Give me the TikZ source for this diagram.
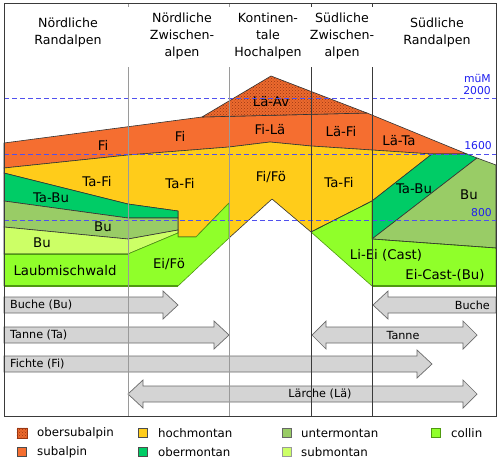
\documentclass[tikz,border=0pt]{standalone}
\usepackage{fontspec}
\setmainfont{DejaVu Sans}
\usetikzlibrary{patterns}
\definecolor{osa}{HTML}{EC6A2E}
\definecolor{osadot}{HTML}{9A3612}
\definecolor{sa}{HTML}{F56E30}
\definecolor{hm}{HTML}{FFCC1A}
\definecolor{om}{HTML}{00CC66}
\definecolor{um}{HTML}{99CC66}
\definecolor{sm}{HTML}{CCFF66}
\definecolor{co}{HTML}{90FF2A}
\definecolor{cob}{HTML}{4F9A10}
\definecolor{hblue}{HTML}{2020F0}
\definecolor{dblue}{HTML}{5050EE}
\definecolor{agray}{HTML}{D4D4D4}
\definecolor{aline}{HTML}{6A6A6A}
\definecolor{lgray}{HTML}{9A9A9A}
\definecolor{dgray}{HTML}{3A3A3A}
\tikzset{
  region/.style={draw=black!80, line width=0.6pt, line join=round},
  colregion/.style={draw=cob, line width=0.6pt, line join=round, fill=co},
  lbl/.style={font=\fontsize{13.3}{15}\selectfont, inner sep=0pt},
  hdr/.style={align=center, font=\fontsize{12.6}{17}\selectfont, inner sep=0pt},
  alt/.style={font=\fontsize{10.8}{12}\selectfont, text=hblue, inner sep=0pt, anchor=east},
  hline/.style={dblue, line width=0.8pt, dash pattern=on 5pt off 3pt},
  arrowbox/.style={draw=aline, fill=agray, line width=0.7pt, line join=miter},
  atxt/.style={font=\fontsize{11.2}{13}\selectfont, inner sep=0pt},
  legtxt/.style={font=\fontsize{11.8}{14}\selectfont, inner sep=0pt, anchor=west},
  legbox/.style={line width=0.6pt, minimum size=9.5pt, inner sep=0pt},
  colline/.style={line width=0.9pt}
}
\begin{document}
\begin{tikzpicture}[x=1pt,y=-1pt]
\useasboundingbox (0,0) rectangle (500,461);
\fill[white] (0,0) rectangle (500,461);

% ---------- coordinates ----------
\coordinate (OT1) at (4,143);
\coordinate (OT2) at (202,117);
\coordinate (P) at (271,76);
\coordinate (LAr) at (367,113);
\coordinate (TIP) at (467,154);
\coordinate (RE) at (496,165);
\coordinate (OY0) at (4,168);
\coordinate (OY1) at (128,155);
\coordinate (OY2) at (229,147);
\coordinate (OY3) at (270,142);
\coordinate (OY4) at (311,146);
\coordinate (OY5) at (372,150);
\coordinate (OY6) at (432,154);
\coordinate (TBr) at (477,158);
\coordinate (TB1) at (372,201);
\coordinate (TB2) at (372,239);
\coordinate (CR1) at (311,232);
\coordinate (FFP) at (272,199);

% ---------- regions ----------
% subalpin
\path[region, fill=sa] (OT1) -- (OT2) -- (LAr) -- (TIP) -- (OY6) -- (OY5) -- (OY4) -- (OY3) -- (OY2) -- (OY1) -- (OY0) -- cycle;
% obersubalpin
\fill[osa] (OT2) -- (P) -- (LAr) -- cycle;
\fill[pattern=crosshatch dots, pattern color=osadot] (OT2) -- (P) -- (LAr) -- cycle;
\draw[region] (OT2) -- (P) -- (LAr) -- cycle;
% hochmontan
\path[region, fill=hm] (OY0) -- (OY1) -- (OY2) -- (OY3) -- (OY4) -- (OY5) -- (OY6) -- (TB1) -- (CR1) -- (FFP) -- (229,238) -- (229,203) -- (196,237) -- (178,237) -- (178,211) -- (128,204) -- (4,173) -- cycle;
% obermontan left
\path[region, fill=om] (4,173) -- (128,204) -- (178,211) -- (178,218) -- (128,218) -- (4,201) -- cycle;
% untermontan left
\path[region, fill=um] (4,201) -- (128,218) -- (178,218) -- (178,230) -- (128,239) -- (4,227) -- cycle;
% submontan left
\path[region, fill=sm] (4,227) -- (128,239) -- (178,230) -- (178,233) -- (128,254) -- (4,254) -- cycle;
% collin left
\path[colregion] (4,254) -- (128,254) -- (178,233) -- (178,237) -- (196,237) -- (229,203) -- (229,238) -- (178,286) -- (4,286) -- cycle;
\draw[cob, colline] (4,254) -- (128,254);
\draw[cob, line width=1.6pt] (4,286) -- (178,286);
% obermontan right
\path[region, fill=om] (TB1) -- (OY6) -- (TIP) -- (TBr) -- (TB2) -- cycle;
% untermontan right
\path[region, fill=um] (TBr) -- (RE) -- (496,248) -- (TB2) -- cycle;
% collin right
\path[colregion] (CR1) -- (TB1) -- (TB2) -- (496,248) -- (496,286) -- (372,286) -- cycle;
\draw[cob, line width=1.6pt] (372,286) -- (496,286);
\draw[black!80, line width=0.6pt] (CR1) -- (TB1);
\draw[black!80, line width=0.6pt] (TB2) -- (496,248);

% ---------- region labels ----------
\node[lbl] (tLaAv) at (271,102) {Lä-Av};
\node[lbl] (tFi1) at (103,145) {Fi};
\node[lbl] (tFi2) at (180,136) {Fi};
\node[lbl] (tFiLa) at (270,130) {Fi-Lä};
\node[lbl] (tLaFi) at (341,132) {Lä-Fi};
\node[lbl] (tLaTa) at (399,141) {Lä-Ta};
\node[lbl] (tTaFi1) at (97,182) {Ta-Fi};
\node[lbl] (tTaFi2) at (180,184) {Ta-Fi};
\node[lbl] (tFiFo) at (271,177) {Fi/Fö};
\node[lbl] (tTaFi3) at (339,183) {Ta-Fi};
\node[lbl] (tTaBu1) at (51,198) {Ta-Bu};
\node[lbl] (tBu1) at (103,227) {Bu};
\node[lbl] (tBu2) at (42,243) {Bu};
\node[lbl] (tLaub) at (65,271) {Laubmischwald};
\node[lbl] (tEiFo) at (169,264) {Ei/Fö};
\node[lbl] (tTaBu2) at (414,189) {Ta-Bu};
\node[lbl] (tBu3) at (469,195) {Bu};
\node[lbl] (tLiEi) at (386,255) {Li-Ei (Cast)};
\node[lbl] (tEiCa) at (445,275) {Ei-Cast-(Bu)};

% ---------- altitude lines ----------
\draw[hline] (4,98) -- (496,98);
\draw[hline] (4,154) -- (496,154);
\draw[hline] (4,220) -- (496,220);
\node[alt] (mum) at (491,78) {müM};
\node[alt] (a2000) at (491,91) {2000};
\node[alt] (a1600) at (492,146) {1600};
\node[alt] (a800) at (492,213) {800};

% ---------- header ----------
\node[hdr] (h1) at (68,32.5) {Nördliche\\Randalpen};
\node[hdr] (h2) at (182,36) {Nördliche\\Zwischen-\\alpen};
\node[hdr] (h3) at (268,36) {Kontinen-\\tale\\Hochalpen};
\node[hdr] (h4) at (342,36) {Südliche\\Zwischen-\\alpen};
\node[hdr] (h5) at (437,32.5) {Südliche\\Randalpen};

% ---------- range arrows ----------
\draw[arrowbox] (4,297) -- (163,297) -- (163,291) -- (178,305) -- (163,319) -- (163,313) -- (4,313) -- cycle;
\node[atxt, anchor=west] (bu1) at (10,305) {Buche (Bu)};
\draw[arrowbox] (496,297) -- (388,297) -- (388,291) -- (373,305) -- (388,319) -- (388,313) -- (496,313) -- cycle;
\node[atxt, anchor=east] (bu2) at (490,305) {Buche};
\draw[arrowbox] (4,327) -- (214,327) -- (214,321) -- (229,335) -- (214,349) -- (214,343) -- (4,343) -- cycle;
\node[atxt, anchor=west] (ta1) at (10,335) {Tanne (Ta)};
\draw[arrowbox] (326,327) -- (463,327) -- (463,321) -- (477,335) -- (463,349) -- (463,343) -- (326,343) -- (326,349) -- (312,335) -- (326,321) -- cycle;
\node[atxt] (ta2) at (403,335) {Tanne};
\draw[arrowbox] (4,356) -- (417,356) -- (417,350) -- (432,364) -- (417,378) -- (417,372) -- (4,372) -- cycle;
\node[atxt, anchor=west] (fi1) at (10,364) {Fichte (Fi)};
\draw[arrowbox] (143,386) -- (463,386) -- (463,380) -- (477,394) -- (463,408) -- (463,402) -- (143,402) -- (143,408) -- (128,394) -- (143,380) -- cycle;
\node[atxt] (la1) at (320,394) {Lärche (Lä)};

% ---------- column separators ----------
\draw[lgray, line width=0.9pt] (128,3) -- (128,7) (128,67) -- (128,416);
\draw[lgray, line width=0.9pt] (229,3) -- (229,7) (229,67) -- (229,416);
\draw[dgray, line width=0.8pt] (311,3) -- (311,7) (311,67) -- (311,416);
\draw[dgray, line width=0.8pt] (372,3) -- (372,7) (372,67) -- (372,416);

% frame
\draw[dgray, line width=0.8pt] (4,3) rectangle (496,416);

% ---------- legend ----------
\node[legbox, fill=osa] (l1) at (22,433) {};
\fill[pattern=crosshatch dots, pattern color=osadot] (l1.south west) rectangle (l1.north east);
\draw[osadot, line width=0.6pt] (l1.south west) rectangle (l1.north east);
\node[legbox, draw=black!70, fill=sa] (l2) at (22,452) {};
\node[legbox, draw=black!70, fill=hm] (l3) at (143,433) {};
\node[legbox, draw=black!70, fill=om] (l4) at (143,452) {};
\node[legbox, draw=black!60, fill=um] (l5) at (287,433) {};
\node[legbox, draw=black!40, fill=sm] (l6) at (287,452) {};
\node[legbox, draw=cob, fill=co] (l7) at (436,433) {};
\node[legtxt] (lt1) at (37,433) {obersubalpin};
\node[legtxt] (lt2) at (37,452) {subalpin};
\node[legtxt] (lt3) at (158,433) {hochmontan};
\node[legtxt] (lt4) at (158,452) {obermontan};
\node[legtxt] (lt5) at (301,433) {untermontan};
\node[legtxt] (lt6) at (301,452) {submontan};
\node[legtxt] (lt7) at (451,433) {collin};
\end{tikzpicture}
\end{document}
